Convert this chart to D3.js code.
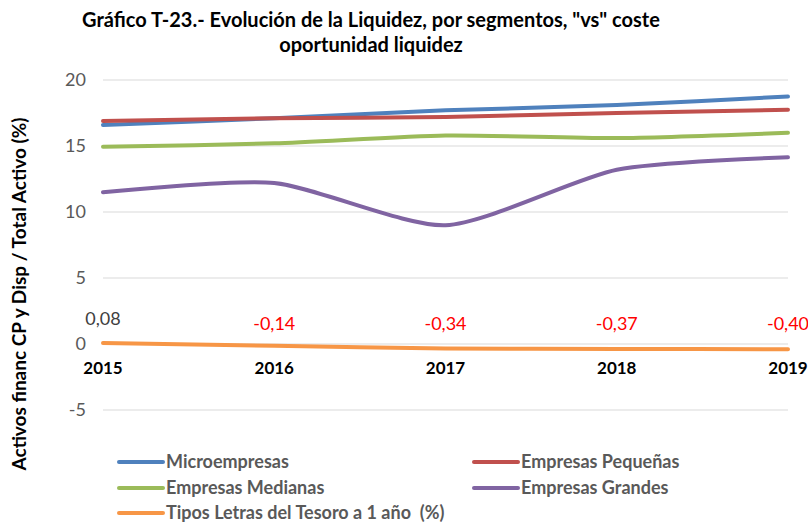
<!DOCTYPE html>
<html>
<head>
<meta charset="utf-8">
<script src="https://cdn.jsdelivr.net/npm/d3@7"></script>
<style>
  body { margin: 0; background: #fff; }
  svg { display: block; font-family: Lato, "Open Sans", sans-serif; }
  text { white-space: pre; }
</style>
</head>
<body>
<svg id="chart" width="808" height="523"></svg>
<script>
/***************************************************************
    Data
****************************************************************/
const years = ["2015", "2016", "2017", "2018", "2019"];
const micro = [16.6, 17.1, 17.7, 18.1, 18.75];
const pequenas = [16.9, 17.1, 17.2, 17.5, 17.75];
const medianas = [14.95, 15.2, 15.8, 15.6, 16.0];
const grandes = [11.5, 12.2, 9.0, 13.2, 14.15];
const letras = [0.08, -0.14, -0.34, -0.37, -0.40];
const letrasLabels = ["0,08", "-0,14", "-0,34", "-0,37", "-0,40"];
const yTicks = [-5, 0, 5, 10, 15, 20];

const series = [
    { name: "Microempresas", values: micro, color: "#4F81BD" },
    { name: "Empresas Pequeñas", values: pequenas, color: "#C0504D" },
    { name: "Empresas Medianas", values: medianas, color: "#9BBB59" },
    { name: "Empresas Grandes", values: grandes, color: "#8064A2" },
    { name: "Tipos Letras del Tesoro a 1 año  (%)", values: letras, color: "#F79646" }
];

/***************************************************************
    Chart
****************************************************************/
const svg = d3.select("#chart");

const x = d3.scalePoint().domain(years).range([103, 788]);
const y = d3.scaleLinear().domain([-5, 20]).range([410, 80]);

// gridlines
svg.append("g")
    .selectAll("line").data(yTicks).enter().append("line")
    .attr("x1", 103).attr("x2", 788)
    .attr("y1", d => y(d)).attr("y2", d => y(d))
    .attr("stroke", "#D9D9D9").attr("stroke-width", 1);

// y axis labels
svg.append("g")
    .selectAll("text").data(yTicks).enter().append("text")
    .attr("x", 86).attr("y", d => y(d))
    .attr("dy", "0.35em")
    .attr("text-anchor", "end")
    .attr("fill", "#595959")
    .attr("font-size", 18)
    .text(d => d);

// x axis labels (bold, under the zero line)
svg.append("g")
    .selectAll("text").data(years).enter().append("text")
    .attr("x", d => x(d)).attr("y", y(0) + 30)
    .attr("text-anchor", "middle")
    .attr("font-weight", "bold")
    .attr("font-size", 17)
    .attr("fill", "#000")
    .text(d => d);

// lines
const line = d3.line()
    .x((d, i) => x(years[i]))
    .y(d => y(d))
    .curve(d3.curveCardinal.tension(0.3));

svg.append("g")
    .selectAll("path").data(series).enter().append("path")
    .attr("d", d => line(d.values))
    .attr("fill", "none")
    .attr("stroke", d => d.color)
    .attr("stroke-width", 4)
    .attr("stroke-linecap", "round");

// data labels for treasury line
svg.append("g")
    .selectAll("text").data(letras).enter().append("text")
    .attr("x", (d, i) => x(years[i]))
    .attr("y", (d, i) => i === 0 ? 325 : 330)
    .attr("text-anchor", "middle")
    .attr("font-size", 18)
    .attr("fill", (d, i) => i === 0 ? "#404040" : "#FF0000")
    .text((d, i) => letrasLabels[i]);

// title
svg.append("text")
    .attr("x", 371).attr("y", 27)
    .attr("text-anchor", "middle")
    .attr("font-weight", "bold").attr("font-size", 20)
    .text('Gráfico T-23.- Evolución de la Liquidez, por segmentos, "vs" coste');
svg.append("text")
    .attr("x", 371).attr("y", 52)
    .attr("text-anchor", "middle")
    .attr("font-weight", "bold").attr("font-size", 20)
    .text("oportunidad liquidez");

// y axis title
svg.append("text")
    .attr("transform", "translate(26,294) rotate(-90)")
    .attr("text-anchor", "middle")
    .attr("font-weight", "bold").attr("font-size", 19)
    .text("Activos financ CP y Disp / Total Activo (%)");

// legend
const legendPos = [[119, 462], [474, 462], [119, 488], [474, 488], [119, 513]];
const legend = svg.append("g")
    .selectAll("g").data(series).enter().append("g")
    .attr("transform", (d, i) => "translate(" + legendPos[i][0] + "," + legendPos[i][1] + ")");
legend.append("line")
    .attr("x1", 0).attr("x2", 44).attr("y1", 0).attr("y2", 0)
    .attr("stroke", d => d.color).attr("stroke-width", 4)
    .attr("stroke-linecap", "round");
legend.append("text")
    .attr("x", 47).attr("dy", "0.35em")
    .attr("font-weight", "bold").attr("font-size", 18)
    .attr("fill", "#595959")
    .text(d => d.name);
</script>
</body>
</html>
